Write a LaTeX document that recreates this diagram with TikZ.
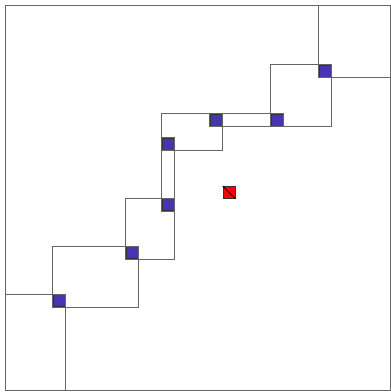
\documentclass[tikz,border=0pt]{standalone}
\definecolor{cellblue}{RGB}{70,52,178}
\begin{document}
\begin{tikzpicture}[x=1pt, y=-1pt,
    every node/.style={rectangle, draw=black!80, minimum size=12pt, inner sep=0pt, thick},
    cell/.style={fill=cellblue},
    target/.style={fill=red},
    frame/.style={draw=black!60, line width=1pt}]
    \useasboundingbox (0,0) rectangle (391,392);
    \coordinate (lo) at (5,390);
    \coordinate (hi) at (390,5);
    \draw[frame] (5,5) rectangle (390,390);
    % squares on the staircase
    \node[cell] (b1) at (59,300.7) {};
    \node[cell] (b2) at (132,252.7) {};
    \node[cell] (b3) at (168,204.7) {};
    \node[cell] (b4) at (168,144) {};
    \node[cell] (b5) at (216.3,120) {};
    \node[cell] (b6) at (277,120) {};
    \node[cell] (b7) at (325.3,71.3) {};
    \node[target] (t) at (229,192.3) {};
    \draw[line width=0.8pt] (t.north west) -- (t.south east);
    % boxes between neighbours
    \draw[frame] (lo) rectangle (b1.north east);
    \draw[frame] (b1.south west) rectangle (b2.north east);
    \draw[frame] (b2.south west) rectangle (b3.north east);
    \draw[frame] (b3.south west) rectangle (b4.north east);
    \draw[frame] (b4.south west) rectangle (b5.north east);
    \draw[frame] (b5.south west) rectangle (b6.north east);
    \draw[frame] (b6.south west) rectangle (b7.north east);
    \draw[frame] (b7.south west) rectangle (hi);
\end{tikzpicture}
\end{document}
